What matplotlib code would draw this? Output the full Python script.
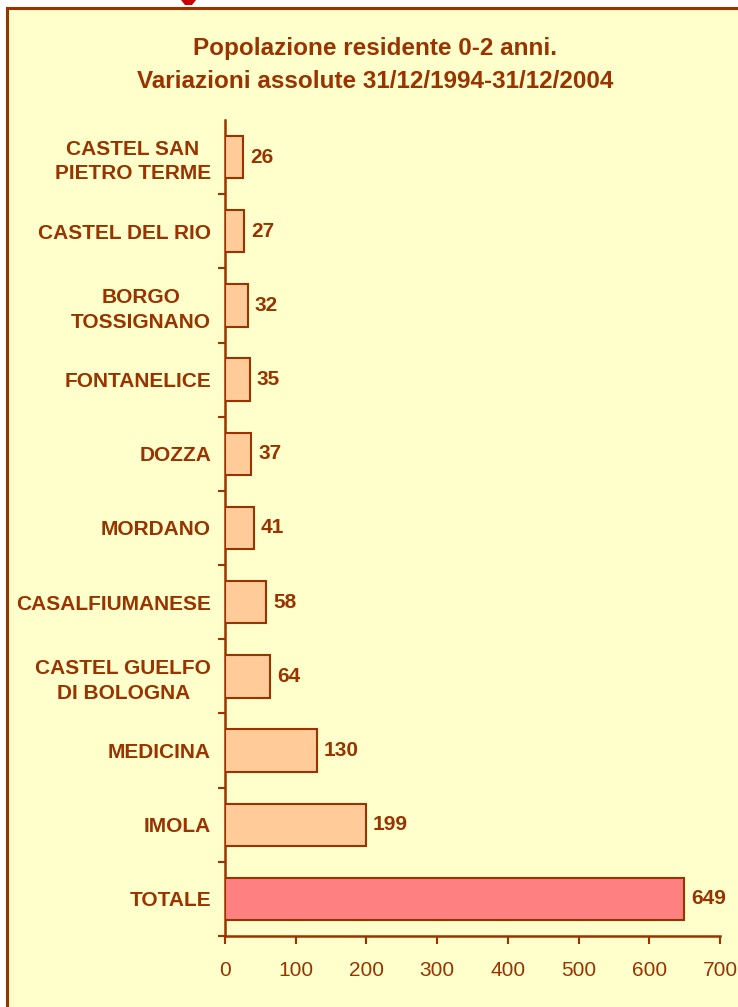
import matplotlib
matplotlib.use("Agg")
import matplotlib.pyplot as plt
from matplotlib.patches import Rectangle, Polygon

plt.rcParams['font.family'] = ['Liberation Sans', 'DejaVu Sans']

comuni = ["CASTEL SAN\nPIETRO TERME", "CASTEL DEL RIO", "BORGO\nTOSSIGNANO",
          "FONTANELICE", "DOZZA", "MORDANO", "CASALFIUMANESE",
          "CASTEL GUELFO\nDI BOLOGNA", "MEDICINA", "IMOLA", "TOTALE"]
variazioni = [26, 27, 32, 35, 37, 41, 58, 64, 130, 199, 649]
xticks = [0, 100, 200, 300, 400, 500, 600, 700]

brown = "#993300"
bg = "#FFFFCC"

fig = plt.figure(figsize=(7.38, 10.07), dpi=100)
fig.patch.set_facecolor("white")

# panel frame (continues past right/bottom edge)
W, H = 738, 1007
fig.patches.append(Rectangle((7 / W, -0.05), 1.1, 1 - 8 / H + 0.05,
                             transform=fig.transFigure, facecolor=bg,
                             edgecolor=brown, linewidth=2.2, zorder=-2))
# fragment of red letter from above
fig.patches.append(Polygon([(181 / W, 1.0), (196 / W, 1.0), (192 / W, 1 - 5 / H),
                            (185 / W, 1 - 5 / H)], closed=True,
                           transform=fig.transFigure, facecolor="#CC0000",
                           edgecolor="none", zorder=-1))

ax = fig.add_axes([225 / W, 1 - 936 / H, (720 - 225) / W, (936 - 120) / H])
ax.set_facecolor("none")

n = len(comuni)
ypos = list(range(n))[::-1]
colors = ["#FFCC99"] * (n - 1) + ["#FF8080"]
ax.barh(ypos, variazioni, height=0.57, color=colors, edgecolor=brown,
        linewidth=1.5, zorder=3)

for y, v in zip(ypos, variazioni):
    ax.text(v + 10, y, str(v), va="center", ha="left", color=brown,
            fontsize=15, fontweight="bold")

ax.set_xlim(0, 700)
ax.set_ylim(-0.5, n - 0.5)
ax.set_xticks(xticks)
ax.set_xticklabels([str(t) for t in xticks], color=brown, fontsize=15)
ax.set_yticks(ypos)
ax.set_yticklabels(comuni, color=brown, fontsize=15, fontweight="bold",
                   multialignment="center", linespacing=1.35)
ax.tick_params(axis="y", length=0, pad=10)
ax.set_yticks([i - 0.5 for i in range(n)], minor=True)
ax.tick_params(axis="y", which="minor", length=5, width=1.5, color=brown)
ax.tick_params(axis="x", length=6, width=1.5, color=brown, pad=12)

for s in ["top", "right"]:
    ax.spines[s].set_visible(False)
for s in ["left", "bottom"]:
    ax.spines[s].set_color(brown)
    ax.spines[s].set_linewidth(1.8)

fig.text(375 / W, 1 - 48 / H, "Popolazione residente 0-2 anni.", ha="center",
         va="center", color=brown, fontsize=17.5, fontweight="bold")
fig.text(375 / W, 1 - 81 / H, "Variazioni assolute 31/12/1994-31/12/2004",
         ha="center", va="center", color=brown, fontsize=17.5, fontweight="bold")

fig.savefig("out.png", dpi=100)
